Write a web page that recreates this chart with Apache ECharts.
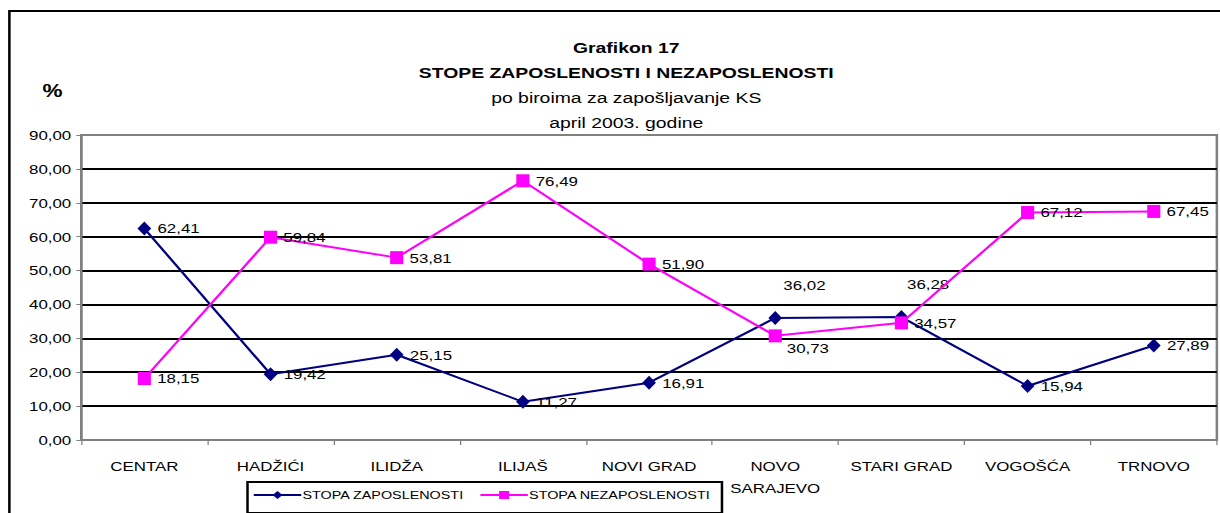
<!DOCTYPE html>
<html>
<head>
<meta charset="utf-8">
<script src="https://cdn.jsdelivr.net/npm/echarts@6/dist/echarts.min.js"></script>
<style>
html, body { margin: 0; padding: 0; background: #fff; overflow: hidden; }
/* the original picture is stretched sideways, so draw narrower and stretch */
#chart { width: 976px; height: 513px; transform: scaleX(1.25); transform-origin: 0 0; }
</style>
</head>
<body>
<div id="chart"></div>
<script>
var categories = ['CENTAR', 'HADŽIĆI', 'ILIDŽA', 'ILIJAŠ', 'NOVI GRAD', 'NOVO\nSARAJEVO', 'STARI GRAD', 'VOGOŠĆA', 'TRNOVO'];
var zaposlenost = [62.41, 19.42, 25.15, 11.27, 16.91, 36.02, 36.28, 15.94, 27.89];
var nezaposlenost = [18.15, 59.84, 53.81, 76.49, 51.90, 30.73, 34.57, 67.12, 67.45];
var seriesNames = ['STOPA ZAPOSLENOSTI', 'STOPA NEZAPOSLENOSTI'];

var font = 'Arial, "Liberation Sans", sans-serif';

function fmt(v) {
    return v.toFixed(2).replace('.', ',');
}

// a few labels sit somewhere else than right of the point
var zapOffsets = { 5: [-4, -33], 6: [-6, -33] };
var nezOffsets = { 5: [-1, 12] };

function buildData(values, offsets) {
    return values.map(function (v, i) {
        var item = { value: v };
        if (offsets[i]) {
            item.label = { offset: offsets[i] };
        }
        return item;
    });
}

var chart = echarts.init(document.getElementById('chart'), null, { renderer: 'svg' });

var labelStyle = {
    show: true,
    position: 'right',
    distance: 5,
    color: '#000',
    fontFamily: font,
    fontSize: 13.5,
    formatter: function (p) { return fmt(p.value); }
};

var option = {
    backgroundColor: '#fff',
    animation: false,
    textStyle: { fontFamily: font },
    title: {
        left: 496,
        top: 30,
        textAlign: 'center',
        text: '{b|Grafikon 17}\n{b|STOPE ZAPOSLENOSTI I NEZAPOSLENOSTI}\n{n|po biroima za zapošljavanje KS}\n{n|april 2003. godine}',
        textStyle: {
            fontWeight: 'normal',
            rich: {
                b: { fontFamily: font, fontSize: 15.5, fontWeight: 'bold', color: '#000', lineHeight: 25, align: 'center' },
                n: { fontFamily: font, fontSize: 15.5, fontWeight: 'normal', color: '#000', lineHeight: 25, align: 'center' }
            }
        }
    },
    graphic: [
        {
            type: 'rect',
            shape: { x: 7.5, y: 11, width: 1000, height: 540 },
            style: { fill: 'none', stroke: '#000', lineWidth: 2 },
            silent: true
        },
        {
            type: 'text',
            left: 34,
            top: 82,
            style: { text: '%', font: 'bold 18px ' + font, fill: '#000' }
        }
    ],
    legend: {
        left: 198,
        top: 482,
        data: seriesNames,
        itemWidth: 38,
        itemHeight: 10,
        itemGap: 12,
        padding: [7, 9, 12, 4],
        borderColor: '#000',
        borderWidth: 2,
        borderRadius: 0,
        textStyle: { fontFamily: font, fontSize: 11.5, color: '#000', padding: [0, 0, 0, -4] }
    },
    grid: {
        left: 65,
        right: 2.5,
        top: 135,
        bottom: 73,
        show: true,
        borderColor: '#808080',
        borderWidth: 2,
        containLabel: false
    },
    xAxis: {
        type: 'category',
        data: categories,
        boundaryGap: true,
        axisLine: { lineStyle: { color: '#808080', width: 2 } },
        axisTick: { show: true, length: 5, inside: false, lineStyle: { color: '#808080', width: 1 } },
        axisLabel: { color: '#000', fontFamily: font, fontSize: 13.5, margin: 15, lineHeight: 22, interval: 0 }
    },
    yAxis: {
        type: 'value',
        min: 0,
        max: 90,
        interval: 10,
        axisLine: { show: true, lineStyle: { color: '#808080', width: 2 } },
        axisTick: { show: true, length: 4, lineStyle: { color: '#808080', width: 1 } },
        axisLabel: {
            color: '#000',
            fontFamily: font,
            fontSize: 13.5,
            margin: 8,
            formatter: function (v) { return fmt(v); }
        },
        splitLine: {
            show: true,
            lineStyle: {
                color: ['#000', '#000', '#000', '#000', '#000', '#000', '#000', '#000', '#000', '#808080'],
                width: 2
            }
        }
    },
    series: [
        {
            name: seriesNames[0],
            type: 'line',
            data: buildData(zaposlenost, zapOffsets),
            symbol: 'diamond',
            symbolSize: [11, 14],
            lineStyle: { color: '#000080', width: 2 },
            itemStyle: { color: '#000080' },
            label: labelStyle,
            z: 3
        },
        {
            name: seriesNames[1],
            type: 'line',
            data: buildData(nezaposlenost, nezOffsets),
            symbol: 'rect',
            symbolSize: [10.5, 13],
            lineStyle: { color: '#ff00ff', width: 2 },
            itemStyle: { color: '#ff00ff' },
            label: labelStyle,
            z: 4
        }
    ]
};

chart.setOption(option);
</script>
</body>
</html>
